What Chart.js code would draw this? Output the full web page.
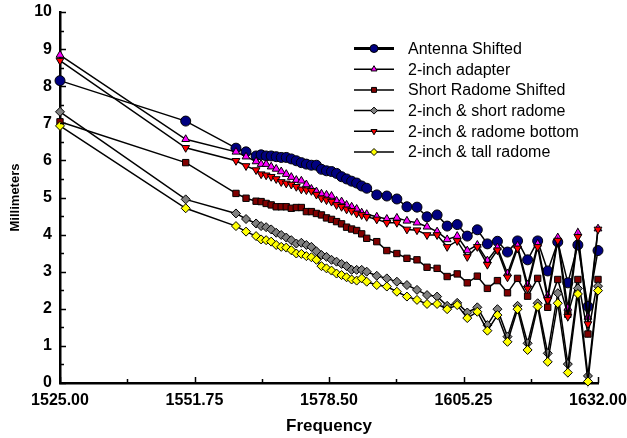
<!DOCTYPE html>
<html>
<head>
<meta charset="utf-8">
<script src="https://cdn.jsdelivr.net/npm/chart.js"></script>
<style>
  body { margin: 0; background: #fff; }
  #wrap { width: 627px; height: 438px; }
</style>
</head>
<body>
<div id="wrap"><canvas id="freqChart" width="627" height="438"></canvas></div>
<script>
// frequencies of the measured points
const frecuencias = [1525, 1550, 1560, 1562,
    1564, 1565, 1566, 1567, 1568, 1569, 1570, 1571, 1572, 1573, 1574, 1575,
    1576, 1577, 1578, 1579, 1580, 1581, 1582, 1583, 1584, 1585, 1586,
    1588, 1590, 1592, 1594, 1596, 1598, 1600, 1602, 1604, 1606, 1608, 1610,
    1612, 1614, 1616, 1618, 1620, 1622, 1624, 1626, 1628, 1630, 1632];

const antennaShifted = [8.15, 7.06, 6.33, 6.23,
    6.12, 6.15, 6.12, 6.12, 6.10, 6.08, 6.08, 6.04, 5.99, 5.94, 5.90, 5.87,
    5.87, 5.76, 5.72, 5.70, 5.65, 5.56, 5.50, 5.44, 5.39, 5.31, 5.25,
    5.07, 5.04, 4.96, 4.75, 4.74, 4.48, 4.53, 4.23, 4.27, 3.96, 4.13, 3.75,
    3.82, 3.53, 3.83, 3.32, 3.83, 3.02, 3.80, 2.70, 3.72, 2.06, 3.57];

const adapter2inch = [8.84, 6.57, 6.23, 6.10,
    5.97, 5.90, 5.90, 5.83, 5.77, 5.70, 5.63, 5.55, 5.47, 5.45, 5.35, 5.23,
    5.16, 5.10, 5.07, 5.04, 4.91, 4.89, 4.80, 4.75, 4.69, 4.59, 4.55,
    4.48, 4.42, 4.45, 4.37, 4.32, 4.21, 4.08, 3.87, 3.96, 3.57, 3.72, 3.30,
    3.65, 2.95, 3.70, 2.65, 3.75, 2.35, 3.92, 2.02, 4.05, 1.78, 4.16];

const shortRadomeShifted = [7.04, 5.94, 5.11, 4.98,
    4.90, 4.89, 4.84, 4.80, 4.75, 4.75, 4.75, 4.71, 4.73, 4.73, 4.62, 4.62,
    4.57, 4.53, 4.45, 4.41, 4.35, 4.29, 4.20, 4.15, 4.11, 4.02, 3.90,
    3.81, 3.57, 3.49, 3.36, 3.32, 3.12, 3.09, 2.87, 2.94, 2.70, 2.88, 2.55,
    2.76, 2.43, 2.82, 2.34, 2.82, 2.04, 2.79, 1.85, 2.79, 1.32, 2.79];

const shortRadome2inch = [7.31, 4.95, 4.57, 4.42,
    4.30, 4.23, 4.20, 4.14, 4.05, 3.99, 3.92, 3.85, 3.76, 3.78, 3.72, 3.67,
    3.55, 3.45, 3.40, 3.32, 3.27, 3.21, 3.15, 3.05, 3.05, 3.05, 3.00,
    2.89, 2.82, 2.73, 2.64, 2.51, 2.37, 2.33, 2.08, 2.16, 1.90, 2.04, 1.56,
    1.99, 1.25, 2.08, 1.07, 2.15, 0.80, 2.42, 0.51, 2.55, 0.19, 2.61];

const radomeBottom2inch = [8.69, 6.34, 5.99, 5.85,
    5.74, 5.63, 5.60, 5.56, 5.50, 5.42, 5.38, 5.35, 5.29, 5.22, 5.20, 5.18,
    5.08, 4.98, 4.93, 4.89, 4.80, 4.75, 4.68, 4.64, 4.57, 4.53, 4.48,
    4.41, 4.32, 4.32, 4.14, 4.12, 3.99, 3.99, 3.67, 3.83, 3.40, 3.67, 3.19,
    3.58, 2.85, 3.63, 2.55, 3.67, 2.24, 3.84, 1.79, 3.94, 1.59, 4.14];

const tallRadome2inch = [6.93, 4.71, 4.23, 4.08,
    3.96, 3.87, 3.85, 3.81, 3.72, 3.67, 3.65, 3.58, 3.49, 3.48, 3.42, 3.39,
    3.32, 3.15, 3.09, 3.03, 2.95, 2.91, 2.85, 2.79, 2.76, 2.82, 2.73,
    2.64, 2.60, 2.46, 2.33, 2.24, 2.13, 2.13, 1.99, 2.10, 1.75, 1.92, 1.41,
    1.83, 1.11, 1.99, 0.89, 2.06, 0.57, 2.15, 0.28, 2.40, 0.04, 2.49];

const seriesNames = ["Antenna Shifted", "2-inch adapter", "Short Radome Shifted",
    "2-inch & short radome", "2-inch & radome bottom", "2-inch & tall radome"];

const xTicks = [1525.00, 1551.75, 1578.50, 1605.25, 1632.00];

const FONT = "'Liberation Sans', Arial, Helvetica, sans-serif";

function toPoints(valores) {
    return frecuencias.map((f, i) => ({ x: f, y: valores[i] }));
}

function makeDataset(label, valores, color, estilo, rotacion, radio, orden) {
    return {
        label: label,
        data: toPoints(valores),
        borderColor: '#000',
        borderWidth: 1.5,
        pointBackgroundColor: color,
        pointBorderColor: '#000',
        pointBorderWidth: 1,
        pointStyle: estilo,
        pointRotation: rotacion,
        pointRadius: radio,
        tension: 0,
        clip: false,
        order: orden
    };
}

// inward tick marks, like the original plot
const inwardTicks = {
    id: 'inwardTicks',
    afterDatasetsDraw(chart) {
        const ctx = chart.ctx;
        const xs = chart.scales.x, ys = chart.scales.y;
        const area = chart.chartArea;
        ctx.save();
        ctx.strokeStyle = '#000';
        ctx.lineWidth = 1.5;
        ctx.beginPath();
        for (let v = 0; v <= 10; v += 0.5) {
            const py = Math.round(ys.getPixelForValue(v)) + 0.5;
            const len = (v % 1 === 0) ? 6 : 4;
            ctx.moveTo(area.left, py);
            ctx.lineTo(area.left + len, py);
        }
        for (let i = 0; i < xTicks.length; i++) {
            let px = Math.round(xs.getPixelForValue(xTicks[i])) + 0.5;
            ctx.moveTo(px, area.bottom);
            ctx.lineTo(px, area.bottom - 6);
            if (i < xTicks.length - 1) {
                px = Math.round(xs.getPixelForValue((xTicks[i] + xTicks[i + 1]) / 2)) + 0.5;
                ctx.moveTo(px, area.bottom);
                ctx.lineTo(px, area.bottom - 4);
            }
        }
        ctx.stroke();
        ctx.restore();
    }
};

// legend drawn inside the plot area, top right
const innerLegend = {
    id: 'innerLegend',
    afterDraw(chart) {
        const ctx = chart.ctx;
        const x0 = 354, x1 = 394, xText = 408;
        ctx.save();
        chart.data.datasets.forEach((ds, i) => {
            const y = 48.5 + i * 20.7;
            ctx.strokeStyle = '#000';
            ctx.lineWidth = i === 0 ? 3 : 1.5;
            ctx.beginPath();
            ctx.moveTo(x0, y);
            ctx.lineTo(x1, y);
            ctx.stroke();
            ctx.fillStyle = ds.pointBackgroundColor;
            ctx.strokeStyle = '#000';
            ctx.lineWidth = 1;
            if (Chart.helpers && Chart.helpers.drawPoint) {
                Chart.helpers.drawPoint(ctx, {
                    pointStyle: ds.pointStyle,
                    rotation: ds.pointRotation,
                    radius: ds.pointRadius - 1,
                    borderWidth: 1
                }, (x0 + x1) / 2, y);
            } else {
                ctx.beginPath();
                ctx.arc((x0 + x1) / 2, y, 3, 0, Math.PI * 2);
                ctx.fill();
                ctx.stroke();
            }
            ctx.fillStyle = '#000';
            ctx.font = "16px " + FONT;
            ctx.textBaseline = 'middle';
            ctx.textAlign = 'left';
            ctx.fillText(ds.label, xText, y + 1);
        });
        ctx.restore();
    }
};

function dibujarGrafico() {
    var ctx = document.getElementById('freqChart').getContext('2d');
    var chart = new Chart(ctx, {
        type: 'line',
        data: {
            datasets: [
                makeDataset(seriesNames[0], antennaShifted, '#000080', 'circle', 0, 5, 6),
                makeDataset(seriesNames[1], adapter2inch, '#ff00ff', 'triangle', 0, 4.5, 5),
                makeDataset(seriesNames[2], shortRadomeShifted, '#800000', 'rect', 0, 4.5, 4),
                makeDataset(seriesNames[3], shortRadome2inch, '#808080', 'rectRot', 0, 4.5, 3),
                makeDataset(seriesNames[4], radomeBottom2inch, '#ff0000', 'triangle', 180, 4.5, 2),
                makeDataset(seriesNames[5], tallRadome2inch, '#ffff00', 'rectRot', 0, 4.5, 1)
            ]
        },
        options: {
            responsive: false,
            animation: false,
            devicePixelRatio: 1,
            layout: { padding: { left: 0, top: 12, right: 29, bottom: 0 } },
            plugins: {
                legend: { display: false },
                tooltip: { enabled: false }
            },
            scales: {
                x: {
                    type: 'linear',
                    min: 1525,
                    max: 1632,
                    afterBuildTicks: s => { s.ticks = xTicks.map(v => ({ value: v })); },
                    afterFit: s => { s.height = 55; s.paddingLeft = 0; s.paddingRight = 0; },
                    grid: { display: false, drawTicks: false },
                    border: { display: true, color: '#000', width: 2.5 },
                    ticks: {
                        color: '#000',
                        padding: 8,
                        maxRotation: 0,
                        font: { family: FONT, size: 16, weight: 'bold' },
                        callback: v => Number(v).toFixed(2)
                    },
                    title: {
                        display: true,
                        text: 'Frequency',
                        color: '#000',
                        padding: { top: 0, bottom: 1 },
                        font: { family: FONT, size: 17, weight: 'bold' }
                    }
                },
                y: {
                    min: 0,
                    max: 10,
                    afterFit: s => { s.width = 60; s.paddingTop = 0; s.paddingBottom = 0; },
                    grid: { display: false, drawTicks: false },
                    border: { display: true, color: '#000', width: 2.5 },
                    ticks: {
                        stepSize: 1,
                        color: '#000',
                        padding: 8,
                        font: { family: FONT, size: 16, weight: 'bold' }
                    },
                    title: {
                        display: true,
                        text: 'Millimeters',
                        color: '#000',
                        padding: { top: 8, bottom: 0 },
                        font: { family: FONT, size: 13, weight: 'bold' }
                    }
                }
            }
        },
        plugins: [inwardTicks, innerLegend]
    });
}

dibujarGrafico();
</script>
</body>
</html>
